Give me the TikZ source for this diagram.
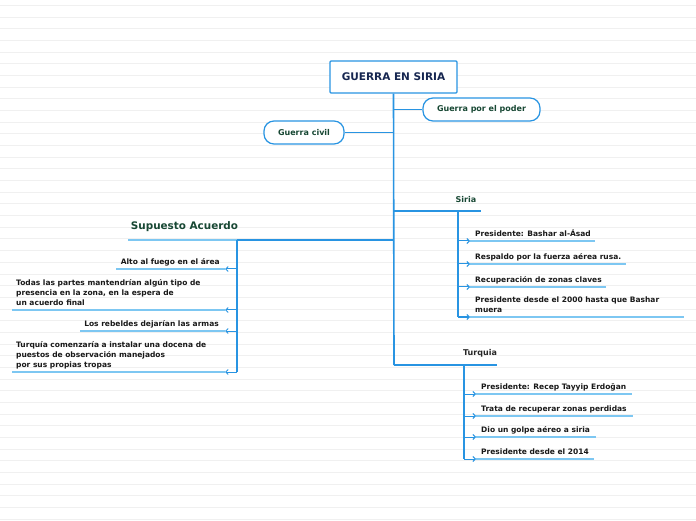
\documentclass[tikz,border=0pt]{standalone}
\usepackage{fontspec}
\setmainfont{DejaVu Sans}
\usetikzlibrary{arrows.meta}
\definecolor{trunk}{RGB}{40,148,226}
\definecolor{leafblue}{RGB}{125,199,242}
\definecolor{titlegreen}{RGB}{24,72,52}
\definecolor{rootnavy}{RGB}{22,38,80}
\definecolor{bgrule}{RGB}{240,240,240}
\begin{document}
\begin{tikzpicture}[x=1pt,y=1pt,
  trunkline/.style={draw=trunk,line width=1.6pt},
  ulline/.style={draw=leafblue,line width=1.3pt},
  tipline/.style={-{Straight Barb[length=2.5pt,width=5pt]},draw=trunk,line width=1pt},
  leaf/.style={font=\fontsize{7.5}{9.8}\selectfont\bfseries,text=black!90,inner sep=0pt,align=left,text depth=0pt},
  pill/.style={draw=trunk,line width=1.2pt,rounded corners=10pt,fill=white,
    font=\fontsize{8}{10}\selectfont\bfseries,text=titlegreen,inner sep=0pt},
  rootbox/.style={draw=trunk,line width=1.2pt,rounded corners=1pt,fill=white,
    font=\fontsize{10.5}{12}\selectfont\bfseries,text=rootnavy,inner sep=0pt,
    minimum width=127pt,minimum height=32pt},
  subtitle/.style={font=\fontsize{8}{10}\selectfont\bfseries,text=titlegreen,inner sep=0pt},
  bigtitle/.style={font=\fontsize{10.4}{12}\selectfont\bfseries,text=titlegreen,inner sep=0pt}
]
\useasboundingbox (0,0) rectangle (696,520);
\fill[white] (0,0) rectangle (696,520);
\foreach \i in {0,...,44}{
  \draw[bgrule,line width=0.8pt] (0,{514.7-\i*11.68}) -- (696,{514.7-\i*11.68});
}

% root and top branches
\node[rootbox] (root) at (393.5,443) {GUERRA EN SIRIA};
\node[pill,minimum width=117pt,minimum height=23pt] (poder) at (481.5,410.5) {Guerra por el poder};
\node[pill,minimum width=80pt,minimum height=23pt] (civil) at (304,387.5) {Guerra civil};

\coordinate (tpoder) at (394,410.5);
\coordinate (tcivil) at (394,387.5);
\coordinate (tsiria) at (394,309);
\coordinate (tsup) at (394,280);
\coordinate (tturq) at (394,155);

\draw[trunkline] (root.south) -- (tturq);
\draw[trunkline] (tpoder) -- (poder.west);
\draw[trunkline] (civil.east) -- (tcivil);

% Siria
\node[subtitle] (siria) at (466,320) {Siria};
\coordinate (siriaend) at (481,309);
\coordinate (sv) at (458,309);
\draw[trunkline] (tsiria) -- (siriaend);
\draw[trunkline] (sv) -- (458,203);

\foreach \name/\y/\e/\t in {
  s1/279/595/{Presidente: Bashar al-Ásad},
  s2/256/626/{Respaldo por la fuerza aérea rusa.},
  s3/233/606/{Recuperación de zonas claves},
  s4/203/684/{Presidente desde el 2000 hasta que Bashar\\muera}}{
  \node[leaf,anchor=south west] (\name) at (475,\y+4.5) {\t};
  \coordinate (\name a) at (458,\y);
  \coordinate (\name b) at (470,\y);
  \coordinate (\name c) at (\e,\y);
  \draw[ulline] (\name b) -- (\name c);
  \draw[tipline] (\name a) -- (\name b);
}

% Turquia
\node[subtitle,text=black!85] (turq) at (480,167) {Turquia};
\coordinate (turqend) at (497,155);
\coordinate (tv) at (464,155);
\draw[trunkline] (tturq) -- (turqend);
\draw[trunkline] (tv) -- (464,61);

\foreach \name/\y/\e/\t in {
  t1/126/632/{Presidente: Recep Tayyip Erdoğan},
  t2/104/633/{Trata de recuperar zonas perdidas},
  t3/83/596/{Dio un golpe aéreo a siria},
  t4/61/594/{Presidente desde el 2014}}{
  \node[leaf,anchor=south west] (\name) at (481,\y+4.5) {\t};
  \coordinate (\name a) at (464,\y);
  \coordinate (\name b) at (476,\y);
  \coordinate (\name c) at (\e,\y);
  \draw[ulline] (\name b) -- (\name c);
  \draw[tipline] (\name a) -- (\name b);
}

% Supuesto Acuerdo
\node[bigtitle] (sup) at (184.5,293) {Supuesto Acuerdo};
\coordinate (supend) at (128,280);
\coordinate (supv) at (237,280);
\draw[ulline] (supend) -- (supv);
\draw[trunkline] (supv) -- (tsup);
\draw[trunkline] (supv) -- (237,148);

\node[leaf,anchor=south east] (a1) at (220,255.5) {Alto al fuego en el área};
\node[leaf,anchor=south west] (a2) at (16,214.5) {Todas las partes mantendrían algún tipo de\\presencia en la zona, en la espera de\\un acuerdo final};
\node[leaf,anchor=south east] (a3) at (219,193.5) {Los rebeldes dejarían las armas};
\node[leaf,anchor=south west] (a4) at (16,152.5) {Turquía comenzaría a instalar una docena de\\puestos de observación manejados\\por sus propias tropas};

\foreach \name/\y/\e in {a1/251/116, a2/210/12, a3/189/80, a4/148/12}{
  \coordinate (\name a) at (237,\y);
  \coordinate (\name b) at (225,\y);
  \coordinate (\name c) at (\e,\y);
  \draw[ulline] (\name b) -- (\name c);
  \draw[tipline] (\name a) -- (\name b);
}
\end{tikzpicture}
\end{document}
